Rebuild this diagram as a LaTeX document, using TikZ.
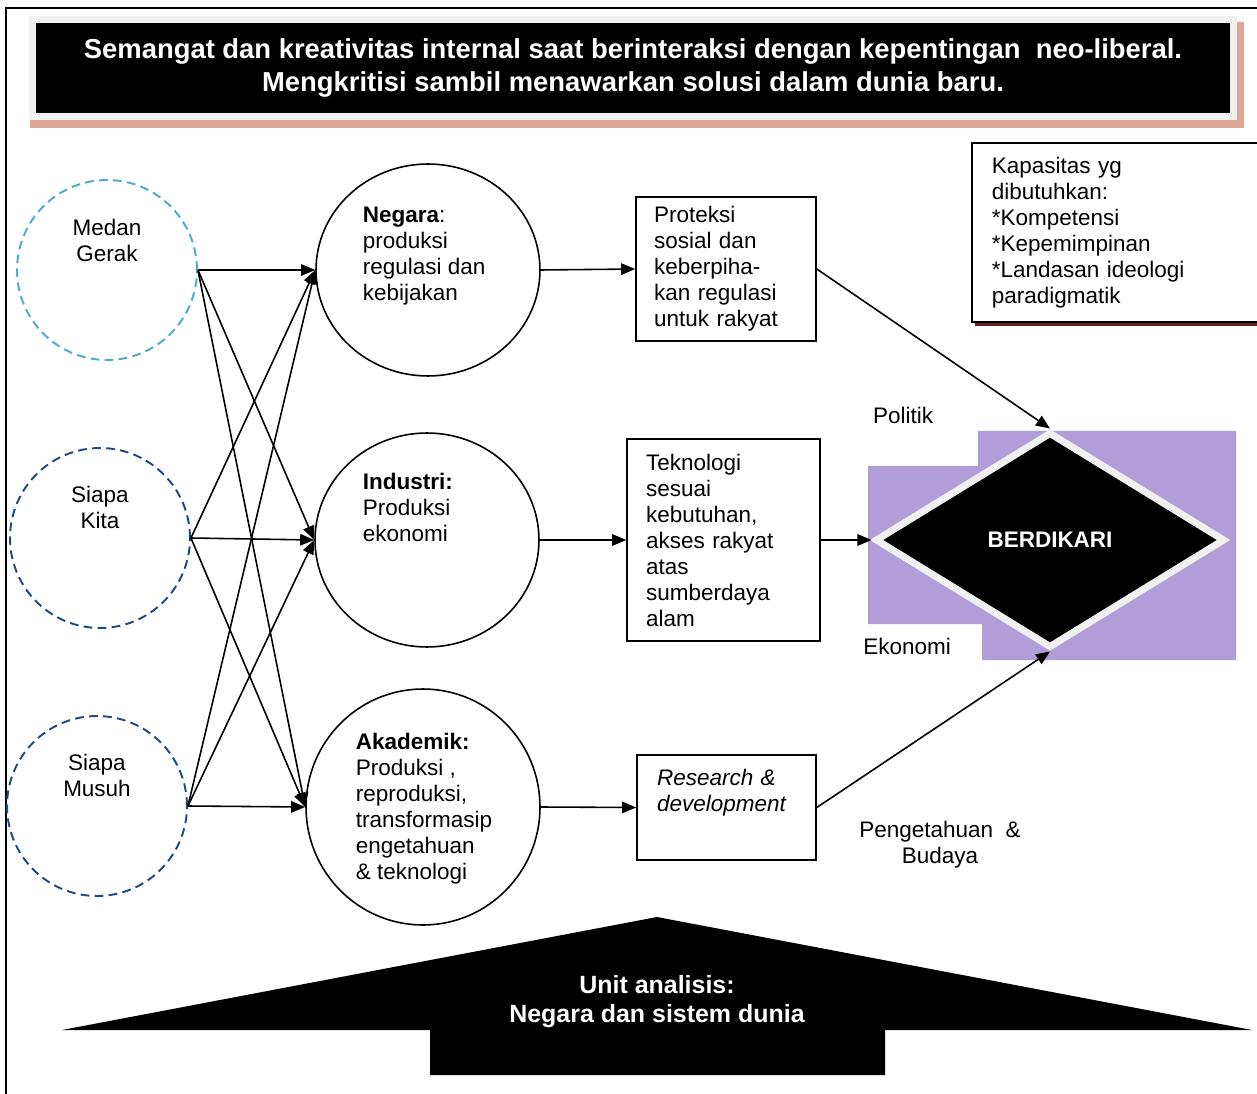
\documentclass[tikz,border=0pt]{standalone}
\usepackage{fontspec}
\setmainfont{Liberation Sans}
\usepackage{tikz}
\usetikzlibrary{arrows.meta,positioning,shapes.geometric}
\definecolor{bdk@aqua}{RGB}{75,172,198}
\definecolor{bdk@navy}{RGB}{31,73,125}
\definecolor{bdk@lilac}{RGB}{177,158,216}
\definecolor{bdk@frame}{RGB}{240,240,240}
\definecolor{bdk@salmon}{RGB}{223,166,148}
\definecolor{bdk@maroon}{RGB}{105,30,30}
\newcommand{\bdkfont}{\fontsize{12.8}{14.8}\selectfont}
\tikzset{
  bdk/.style={
    x=0.02cm, y=-0.02cm,
    >={Triangle[length=8pt,width=6.5pt]},
    line width=0.9pt,
    every node/.style={font=\bdkfont}
  },
  titlebox/.style={                % black banner on top
    fill=black, draw=bdk@frame, line width=0.14cm,
    minimum width=24.02cm, minimum height=1.96cm,
    text=white, align=center,
    font=\bfseries\fontsize{15.6}{18.7}\selectfont
  },
  capbox/.style={                  % capacity list
    rectangle, draw, fill=white, line width=1.1pt,
    align=left, text width=5.28cm,
    inner xsep=0.4cm, inner ysep=0pt,
    minimum height=3.58cm
  },
  actor/.style={circle, minimum size=3.6cm, line width=1.1pt,
    dash pattern=on 5pt off 3pt},
  sector/.style={ellipse, draw, line width=0.9pt, inner sep=0pt},
  stext/.style={anchor=north west, align=left, inner sep=0pt},
  lbl/.style={align=center, inner sep=0pt},
  outbox/.style={rectangle, draw, line width=0.9pt, inner sep=0pt, align=left},
  goal/.style={
    diamond, fill=black, draw=bdk@frame, line width=0.14cm,
    minimum width=7cm, minimum height=4.32cm, inner sep=0pt,
    text=white, font=\bfseries\bdkfont
  },
  basetext/.style={text=white, align=center,
    font=\bfseries\fontsize{14.2}{16.4}\selectfont},
  flow/.style={->, line width=0.9pt}
}
\begin{document}
\begin{tikzpicture}[bdk]
\useasboundingbox (0,0) rectangle (1257,1094);

% Frame
\draw[line width=1.1pt] (6,1094) -- (6,8) -- (1257,8);

% Title banner
\fill[bdk@salmon] (30,22) rectangle (1244,128);
\node[titlebox] (title) at (633,68)
  {Semangat dan kreativitas internal saat berinteraksi dengan kepentingan\ \ neo-liberal.\\Mengkritisi sambil menawarkan solusi dalam dunia baru.};

% Capacity box
\fill[bdk@maroon] (975,147) rectangle (1280,326);
\node[capbox, anchor=west] (kap) at (971,232.5)
  {Kapasitas yg\\dibutuhkan:\\{}*Kompetensi\\{}*Kepemimpinan\\{}*Landasan ideologi\\paradigmatik};

% Actors
\node[actor, draw=bdk@aqua] (mg) at (107,270) {};
\node[actor, draw=bdk@navy] (sk) at (100,538) {};
\node[actor, draw=bdk@navy] (sm) at (97,806) {};
\node[lbl, anchor=north] (mgT) at (107,218) {Medan\\Gerak};
\node[lbl, anchor=north] (skT) at (100,485) {Siapa\\Kita};
\node[lbl, anchor=north] (smT) at (97,753) {Siapa\\Musuh};

% Sectors
\node[sector, minimum width=4.48cm, minimum height=4.24cm] (neg) at (428,270) {};
\node[sector, minimum width=4.48cm, minimum height=4.28cm] (ind) at (427,540) {};
\node[sector, minimum width=4.68cm, minimum height=4.72cm] (aka) at (423,807) {};
\node[stext] (negT) at (362,206) {\textbf{Negara}:\\produksi\\regulasi dan\\kebijakan};
\node[stext] (indT) at (362,472) {\textbf{Industri:}\\Produksi\\ekonomi};
\node[stext] (akaT) at (355,732) {\textbf{Akademik:}\\Produksi ,\\reproduksi,\\transformasip\\engetahuan\\\& teknologi};

% Outputs
\node[outbox, text width=2.88cm, minimum width=3.6cm, minimum height=2.88cm] (prot) at (726,269)
  {Proteksi\\sosial dan\\keberpiha-\\kan regulasi\\untuk rakyat};
\node[outbox, text width=3.1cm, minimum width=3.86cm, minimum height=4.04cm] (tek) at (723.5,540)
  {Teknologi\\sesuai\\kebutuhan,\\akses rakyat\\atas\\sumberdaya\\alam};
\node[outbox, text width=2.78cm, minimum width=3.58cm, minimum height=2.1cm,
  font=\bdkfont\itshape] (rnd) at (726.5,807.5)
  {Research \&\\development\\\strut};

% Goal
\fill[bdk@lilac] (868,466) -- (978,466) -- (978,431) -- (1236,431) -- (1236,660)
  -- (982,660) -- (982,624) -- (868,624) -- cycle;
\node[goal] (goal) at (1050,540) {BERDIKARI};
\node (pol) at (903,415) {Politik};
\node (eko) at (907,646) {Ekonomi};
\node[align=center] (pb) at (940,845) {Pengetahuan\ \ \&\\Budaya};

% Actors to sectors
\draw[flow] (mg.east) -- (neg.west);
\draw[flow] (mg.east) -- (ind.west);
\draw[flow] (mg.east) -- (aka.west);
\draw[flow] (sk.east) -- (neg.west);
\draw[flow] (sk.east) -- (ind.west);
\draw[flow] (sk.east) -- (aka.west);
\draw[flow] (sm.east) -- (neg.west);
\draw[flow] (sm.east) -- (ind.west);
\draw[flow] (sm.east) -- (aka.west);

% Sectors to outputs to goal
\draw[flow] (neg.east) -- (prot.west);
\draw[flow] (ind.east) -- (tek.west);
\draw[flow] (aka.east) -- (rnd.west);
\draw[flow] (prot.east) -- (goal.north);
\draw[flow] (tek.east) -- (goal.west);
\draw[flow] (rnd.east) -- (goal.south);

% Base arrow
\fill (657,917) -- (1252,1030) -- (885,1030) -- (885,1075) -- (430,1075)
  -- (430,1030) -- (62,1030) -- cycle;
\node[basetext] (unit) at (657,1002) {Unit analisis:\\Negara dan sistem dunia};

\end{tikzpicture}
\end{document}
